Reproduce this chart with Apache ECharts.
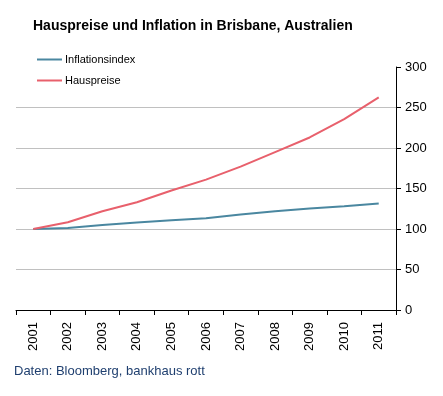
<!DOCTYPE html>
<html>
<head>
<meta charset="utf-8">
<script src="https://cdn.jsdelivr.net/npm/echarts@6/dist/echarts.min.js"></script>
<style>
  html, body { margin: 0; padding: 0; background: #fff; }
  #main { width: 443px; height: 396px; }
</style>
</head>
<body>
<div id="main"></div>
<script>
// Jahre und Werte (Index 2001 = 100)
var years = ['2001', '2002', '2003', '2004', '2005', '2006', '2007', '2008', '2009', '2010', '2011'];
var inflation = [100, 101.3, 105, 108, 110.8, 113.3, 117.9, 122, 125.3, 128, 131.5];
var hauspreise = [100, 108.3, 122, 133, 147.6, 161, 177, 195, 213, 235.7, 262.6];
var yTicks = [0, 50, 100, 150, 200, 250, 300];

var font = 'Liberation Sans, Arial, sans-serif';
var myChart = echarts.init(document.getElementById('main'));

myChart.setOption({
  animation: false,
  textStyle: { fontFamily: font },
  title: {
    text: 'Hauspreise und Inflation in Brisbane, Australien',
    left: 28,
    top: 14,
    textStyle: { fontSize: 14, fontWeight: 'bold', color: '#000', fontFamily: font }
  },
  legend: {
    orient: 'vertical',
    left: 32,
    top: 49,
    itemWidth: 25,
    itemHeight: 2,
    itemGap: 10,
    icon: 'rect',
    textStyle: { fontSize: 11, color: '#000', fontFamily: font, padding: [0, 0, 0, -2] },
    data: ['Inflationsindex', 'Hauspreise']
  },
  graphic: [{
    type: 'text',
    left: 14,
    top: 365,
    style: { text: 'Daten: Bloomberg, bankhaus rott', fill: '#1f3f6f', font: '13px ' + font }
  }],
  grid: { left: 16, right: 47, top: 67, bottom: 86 },
  xAxis: {
    type: 'category',
    data: years,
    boundaryGap: true,
    axisLine: { lineStyle: { color: '#000', width: 1 } },
    axisTick: { show: true, length: 5, lineStyle: { color: '#000' } },
    axisLabel: { rotate: 90, fontSize: 13, color: '#000', margin: 12, fontFamily: font }
  },
  yAxis: {
    type: 'value',
    position: 'right',
    min: yTicks[0],
    max: yTicks[yTicks.length - 1],
    interval: 50,
    axisLine: { show: true, lineStyle: { color: '#000', width: 1 } },
    axisTick: { show: true, length: 5, inside: false, lineStyle: { color: '#000' } },
    axisLabel: { fontSize: 13, color: '#000', margin: 9, fontFamily: font },
    splitLine: { show: true, showMaxLine: false, showMinLine: false, lineStyle: { color: '#c0c0c0', width: 1 } }
  },
  series: [
    {
      name: 'Inflationsindex',
      type: 'line',
      data: inflation,
      symbol: 'none',
      color: '#4a87a0',
      lineStyle: { width: 2, color: '#4a87a0' }
    },
    {
      name: 'Hauspreise',
      type: 'line',
      data: hauspreise,
      symbol: 'none',
      color: '#e8606c',
      lineStyle: { width: 2, color: '#e8606c' }
    }
  ]
});
</script>
</body>
</html>
